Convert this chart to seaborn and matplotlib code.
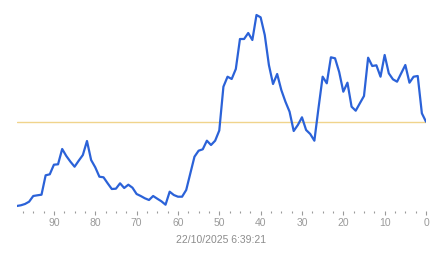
import matplotlib
matplotlib.use("Agg")
import matplotlib.pyplot as plt
from matplotlib.ticker import MultipleLocator
import seaborn as sns
import pandas as pd

# x positions (counting down to 0) and series values
steps = list(range(99, -1, -1))
values = [
    52, 52.7, 54, 56.3, 62, 62.7, 63.3, 82.7, 83.7, 93.3,
    93.7, 109, 102, 96.3, 91.3, 97.3, 103, 117, 98, 90.7,
    81.3, 80.7, 74.7, 69, 69.3, 74.7, 70, 73.3, 70.3, 64,
    62, 59.7, 58, 62, 59.3, 56.7, 53.3, 66.3, 63, 61.3,
    61.3, 68, 84.7, 101.3, 107.3, 108.7, 117.3, 113, 117.3, 127.5,
    171.3, 181.3, 179, 189, 219, 219, 225, 218, 243, 240.7,
    223, 193, 174, 184, 168, 156.3, 146.3, 127, 133, 140.7,
    128, 124, 117.3, 150, 181.3, 174.7, 200.7, 199.7, 186, 166.3,
    175.3, 151.3, 147.3, 154.7, 162, 200.3, 192, 192.7, 181.3, 203,
    184.7, 178.7, 176.3, 184.7, 193, 175.3, 181.3, 182, 144.7, 136.3,
]
reference_level = 136
tick_values = [90, 80, 70, 60, 50, 40, 30, 20, 10, 0]
timestamp = "22/10/2025 6:39:21"

df = pd.DataFrame({"step": steps, "value": values})

sns.set_style("white")
plt.rcParams["font.family"] = ["Liberation Sans", "DejaVu Sans"]

fig = plt.figure(figsize=(4.43, 2.58), dpi=100)
ax = fig.add_axes([16.7 / 443, 1 - 210.5 / 258, (426 - 16.7) / 443, (210.5 - 10) / 258])

ax.axhline(reference_level, color="#f0d48c", lw=1.0, zorder=1)
sns.lineplot(data=df, x="step", y="value", ax=ax, color="#2b62d8", lw=1.6, zorder=2)

ax.set_xlim(99, 0)
ax.set_ylim(47.5, 248)
ax.set_xlabel("")
ax.set_ylabel("")
ax.set_yticks([])
ax.set_xticks(tick_values)
ax.set_xticklabels([str(t) for t in tick_values])
ax.xaxis.set_minor_locator(MultipleLocator(2.5))
ax.tick_params(axis="x", which="major", direction="out", length=3.0, width=0.8,
               color="#9a9a9a", labelsize=7.5, labelcolor="#9a9a9a", pad=2.5, bottom=True)
ax.tick_params(axis="x", which="minor", direction="out", length=1.2, width=0.8,
               color="#9a9a9a", bottom=True)
for s in ax.spines.values():
    s.set_visible(False)

fig.text(221 / 443, 1 - 240 / 258, timestamp, ha="center", va="center",
         fontsize=7.5, color="#8c8c8c")

fig.savefig("out.png", dpi=100)
